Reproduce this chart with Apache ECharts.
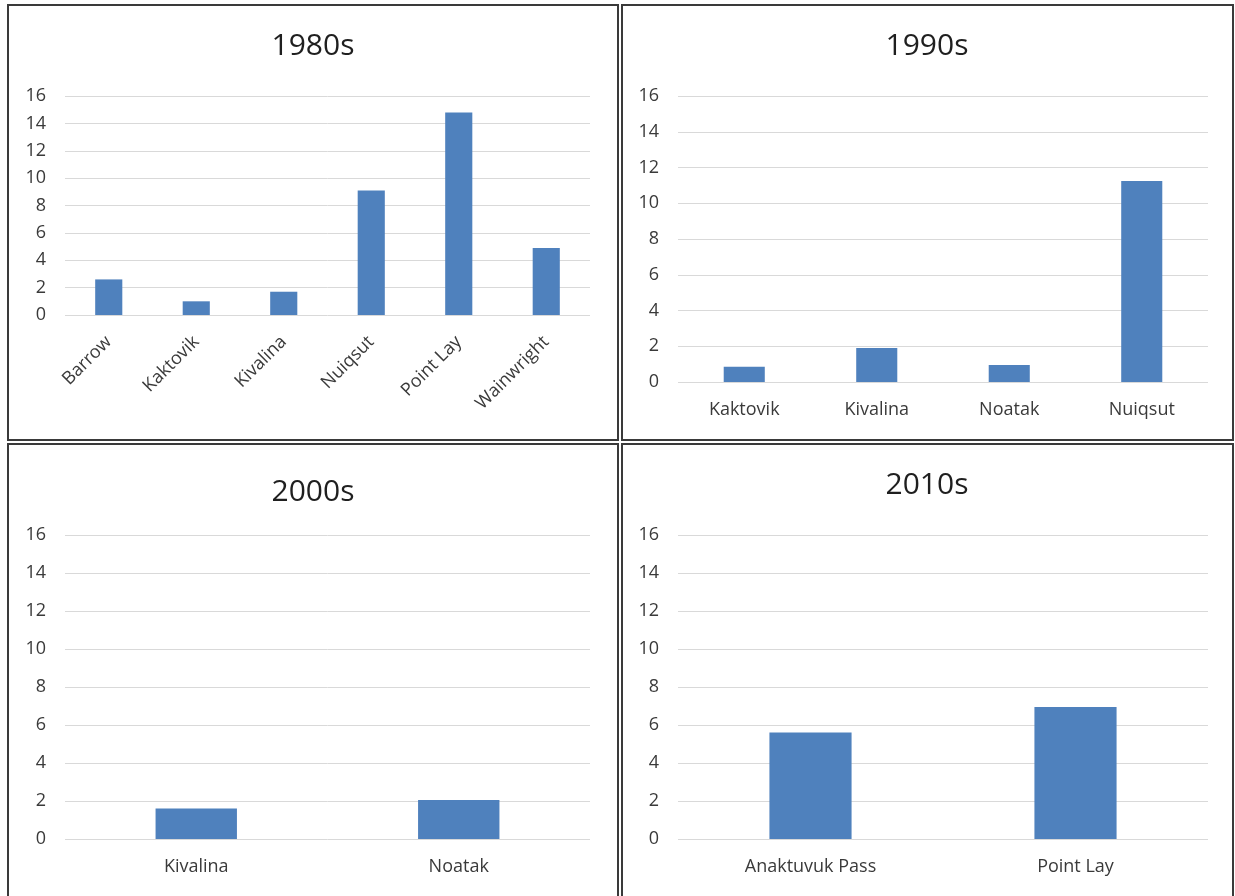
<!DOCTYPE html>
<html>
<head>
<meta charset="utf-8">
<script src="https://cdn.jsdelivr.net/npm/echarts@6/dist/echarts.min.js"></script>
<style>
  html, body { margin: 0; padding: 0; background: #ffffff; }
  #chart { width: 1235px; height: 896px; }
</style>
</head>
<body>
<div id="chart"></div>
<script>
// Decade titles
const decades = ['1980s', '1990s', '2000s', '2010s'];

// Communities and counts per decade
const cats1980 = ['Barrow', 'Kaktovik', 'Kivalina', 'Nuiqsut', 'Point Lay', 'Wainwright'];
const vals1980 = [2.6, 1.0, 1.7, 9.1, 14.8, 4.9];

const cats1990 = ['Kaktovik', 'Kivalina', 'Noatak', 'Nuiqsut'];
const vals1990 = [0.85, 1.9, 0.95, 11.25];

const cats2000 = ['Kivalina', 'Noatak'];
const vals2000 = [1.6, 2.05];

const cats2010 = ['Anaktuvuk Pass', 'Point Lay'];
const vals2010 = [5.6, 6.95];

// Shared value-axis range
const yMin = 0, yMax = 16, yStep = 2;

const FONT = '"Open Sans", "Liberation Sans", sans-serif';
const TEXT = '#3a3a3a';
const BAR = '#4F81BD';
const GRID = '#D9D9D9';
const BORDER = '#3a3a3a';

const panels = [
  { cats: cats1980, vals: vals1980, grid: { left: 65, right: 645, top: 96, bottom: 581 }, rotate: 45, title: { x: 313, y: 46 } },
  { cats: cats1990, vals: vals1990, grid: { left: 678, right: 27, top: 96, bottom: 514 }, rotate: 0, title: { x: 927, y: 46 } },
  { cats: cats2000, vals: vals2000, grid: { left: 65, right: 645, top: 535, bottom: 57 }, rotate: 0, title: { x: 313, y: 492 } },
  { cats: cats2010, vals: vals2010, grid: { left: 678, right: 27, top: 535, bottom: 57 }, rotate: 0, title: { x: 927, y: 485 } }
];

// Panel frames
const frames = [
  { x: 8, y: 5, width: 610, height: 435 },
  { x: 622, y: 5, width: 611, height: 435 },
  { x: 8, y: 444, width: 610, height: 500 },
  { x: 622, y: 444, width: 611, height: 500 }
];

const option = {
  animation: false,
  backgroundColor: '#ffffff',
  grid: panels.map(p => Object.assign({ containLabel: false }, p.grid)),
  xAxis: panels.map((p, i) => ({
    type: 'category',
    gridIndex: i,
    data: p.cats,
    axisLine: { show: false },
    axisTick: { show: false },
    axisLabel: {
      fontFamily: FONT,
      fontSize: 18,
      color: TEXT,
      rotate: p.rotate,
      margin: p.rotate ? 24 : 19,
      interval: 0
    }
  })),
  yAxis: panels.map((p, i) => ({
    type: 'value',
    gridIndex: i,
    min: yMin,
    max: yMax,
    interval: yStep,
    axisLine: { show: false },
    axisTick: { show: false },
    splitLine: { lineStyle: { color: GRID, width: 1 } },
    axisLabel: { fontFamily: FONT, fontSize: 18, color: TEXT, margin: 19 }
  })),
  series: panels.map((p, i) => ({
    type: 'bar',
    xAxisIndex: i,
    yAxisIndex: i,
    data: p.vals,
    barWidth: '31%',
    itemStyle: { color: BAR }
  })),
  graphic: frames.map(f => ({
    type: 'rect', shape: f, silent: true,
    style: { fill: 'none', stroke: BORDER, lineWidth: 2 }
  })).concat(panels.map((p, i) => ({
    type: 'text', x: p.title.x, y: p.title.y, silent: true,
    style: {
      text: decades[i], fontFamily: FONT, fontSize: 30, fill: '#1f1f1f',
      align: 'center', verticalAlign: 'middle'
    }
  })))
};

const chart = echarts.init(document.getElementById('chart'), null, { renderer: 'canvas' });
chart.setOption(option);
</script>
</body>
</html>
